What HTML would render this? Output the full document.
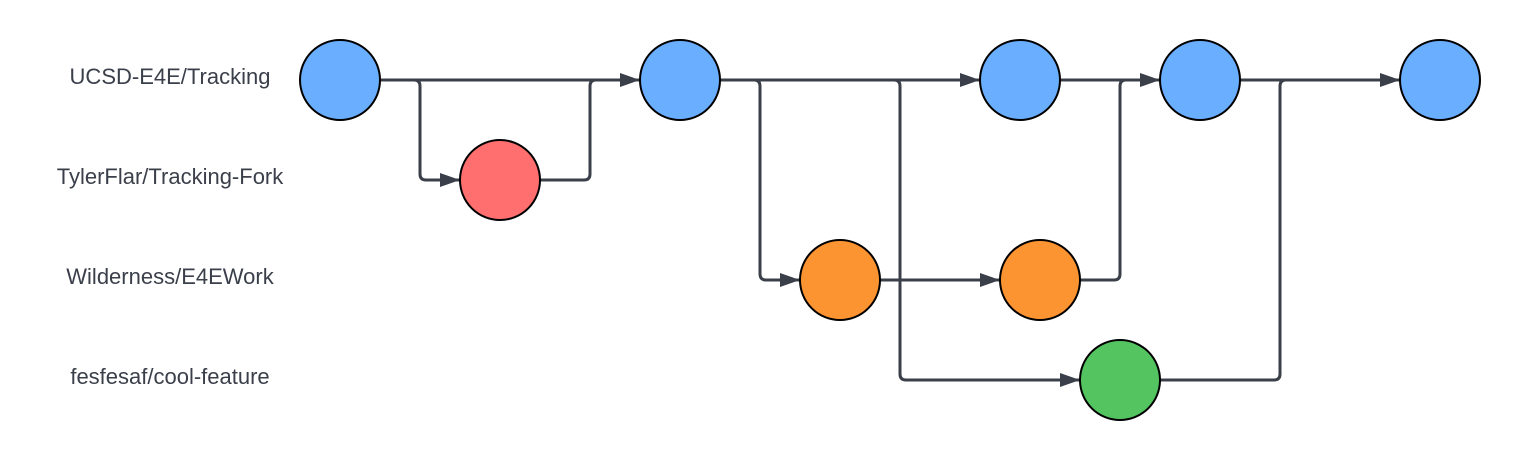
<!DOCTYPE html>
<html><head><meta charset="utf-8"><style>
html,body{margin:0;padding:0;background:#fff;}
svg{display:block;}
text{font-family:"Liberation Sans",sans-serif;font-size:22px;fill:#3a3f4a;}
</style></head><body>
<svg width="1520" height="460" viewBox="0 0 1520 460" xmlns="http://www.w3.org/2000/svg">
<defs>
<marker id="a" viewBox="0 0 20 14" refX="20" refY="7" markerWidth="20" markerHeight="14" markerUnits="userSpaceOnUse" orient="auto">
<path d="M0,0 L20,7 L0,14 Z" fill="#3a3f4a"/>
</marker>
</defs>
<rect width="1520" height="460" fill="#fff"/>
<text x="170" y="84" text-anchor="middle">UCSD-E4E/Tracking</text>
<text x="170" y="184" text-anchor="middle">TylerFlar/Tracking-Fork</text>
<text x="170" y="284" text-anchor="middle">Wilderness/E4EWork</text>
<text x="170" y="384" text-anchor="middle">fesfesaf/cool-feature</text>
<g fill="none" stroke="#3a3f4a" stroke-width="3" stroke-linejoin="round">
<path d="M380,80 L640,80" marker-end="url(#a)"/>
<path d="M380,80 L414,80 Q420,80 420,86 L420,174 Q420,180 426,180 L460,180" marker-end="url(#a)"/>
<path d="M540,180 L584,180 Q590,180 590,174 L590,86 Q590,80 596,80 L610,80"/>
<path d="M720,80 L980,80" marker-end="url(#a)"/>
<path d="M720,80 L754,80 Q760,80 760,86 L760,274 Q760,280 766,280 L800,280" marker-end="url(#a)"/>
<path d="M720,80 L894,80 Q900,80 900,86 L900,374 Q900,380 906,380 L1080,380" marker-end="url(#a)"/>
<path d="M880,280 L1000,280" marker-end="url(#a)"/>
<path d="M1080,280 L1114,280 Q1120,280 1120,274 L1120,86 Q1120,80 1126,80 L1140,80"/>
<path d="M1060,80 L1160,80" marker-end="url(#a)"/>
<path d="M1240,80 L1400,80" marker-end="url(#a)"/>
<path d="M1160,380 L1274,380 Q1280,380 1280,374 L1280,86 Q1280,80 1286,80 L1300,80"/>
</g>
<g stroke="#000" stroke-width="2">
<circle cx="340" cy="80" r="40" fill="#6aaeff"/>
<circle cx="680" cy="80" r="40" fill="#6aaeff"/>
<circle cx="1020" cy="80" r="40" fill="#6aaeff"/>
<circle cx="1200" cy="80" r="40" fill="#6aaeff"/>
<circle cx="1440" cy="80" r="40" fill="#6aaeff"/>
<circle cx="500" cy="180" r="40" fill="#ff6f6f"/>
<circle cx="840" cy="280" r="40" fill="#fc9432"/>
<circle cx="1040" cy="280" r="40" fill="#fc9432"/>
<circle cx="1120" cy="380" r="40" fill="#53c45f"/>
</g>
</svg>
</body></html>
